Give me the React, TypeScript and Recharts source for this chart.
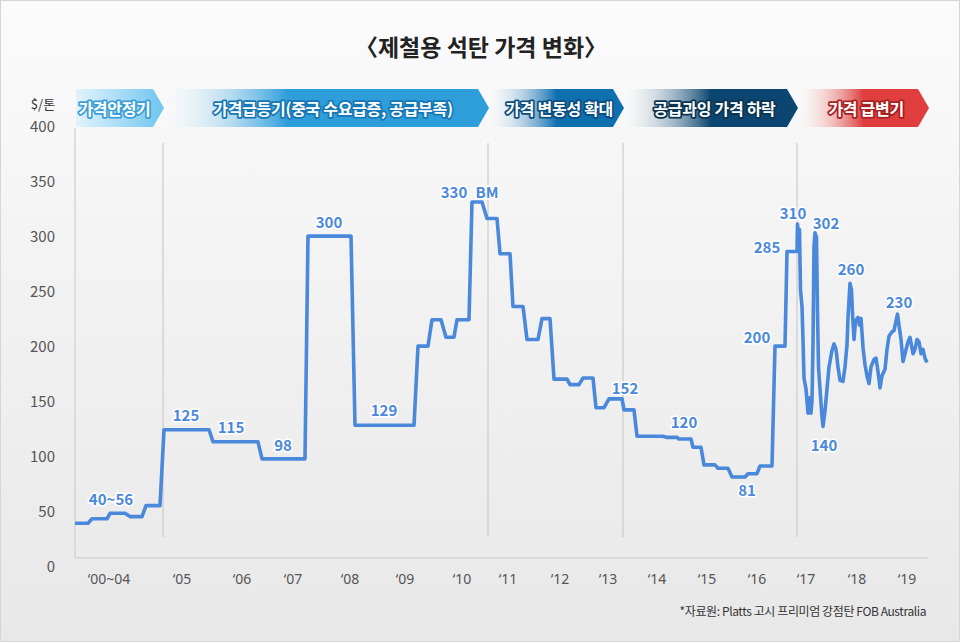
import { LineChart, Line, XAxis, YAxis, ReferenceLine, ReferenceDot } from 'recharts';

// x position in chart units (1 unit = 10px of plot width)
const TIME = [
  0, 1.3, 1.7, 3.2, 3.5, 5.0, 5.5, 6.7, 7.1, 8.5, 8.9, 13.4, 13.8, 18.3, 18.7, 23.0, 23.3, 27.6, 28.0,
  33.9, 34.3, 35.3, 35.7, 36.6, 37.1, 37.9, 38.2, 39.4, 39.7, 40.7, 41.2, 42.2, 42.5, 43.5, 43.8, 44.8,
  45.2, 46.3, 46.7, 47.5, 47.9, 49.2, 49.5, 50.4, 50.8, 51.8, 52.1, 52.9, 53.4, 54.7, 54.9, 55.9, 56.2,
  58.8, 59.2, 60.2, 60.4, 61.6, 61.8, 62.6, 62.9, 64.0, 64.3, 65.3, 65.7, 67.0, 67.3, 68.2, 68.5, 69.7,
  70.0, 71.0, 71.2, 72.2,
  72.25, 72.35, 72.45, 72.55, 72.7, 72.8, 72.9, 73.1, 73.3, 73.45, 73.6, 73.7, 73.8, 73.9, 74.0, 74.15,
  74.25, 74.35, 74.5, 74.7, 74.8, 75.0, 75.2, 75.4, 75.7, 75.9, 76.1, 76.3, 76.5, 76.8, 77.0, 77.2, 77.3,
  77.5, 77.65, 77.75, 77.9, 78.05, 78.3, 78.45, 78.6, 78.8, 79.0, 79.2, 79.4, 79.6, 79.9, 80.1, 80.3, 80.5,
  80.7, 81.0, 81.2, 81.4, 81.7, 81.9, 82.1, 82.25, 82.4, 82.6, 82.8, 83.0, 83.3, 83.5, 83.8, 84.0, 84.2,
  84.4, 84.6, 84.8, 85.0, 85.2,
];

// $/톤
const PRICE = [
  38, 38, 42, 42, 47, 47, 44, 44, 54, 54, 123, 123, 112, 112, 96.5, 96.5, 299, 299, 127,
  127, 199, 199, 223, 223, 207, 207, 223, 223, 330, 330, 315, 315, 283, 283, 235, 235,
  205, 205, 224, 224, 169, 169, 164, 164, 170, 170, 143, 143, 151, 151, 141, 141, 117,
  117, 116, 116, 114.5, 114.5, 107, 107, 91, 91, 88, 88, 80, 80, 83, 83, 90, 90,
  199, 199, 285, 285,
  310, 296, 305, 250, 235, 205, 170, 160, 138, 152, 138, 150, 200, 290, 302, 298,
  230, 180, 160, 135, 126, 140, 160, 180, 195, 201, 196, 180, 168, 167, 180, 200, 225,
  256, 250, 229, 205, 222, 225, 218, 224, 198, 182, 172, 165, 180, 187, 188, 176, 161,
  172, 178, 196, 208, 212, 213, 222, 228, 218, 205, 185, 192, 203, 207, 192, 196, 205,
  203, 192, 196, 188, 184,
];

const X_TICKS = [3.4, 10.7, 16.7, 21.8, 27.5, 33.0, 38.7, 43.3, 48.5, 53.3, 58.2, 63.2, 68.2, 73.1, 78.2, 83.2];
const X_LABELS = ['‘00~04', '‘05', '‘06', '‘07', '‘08', '‘09', '‘10', '‘11', '‘12', '‘13', '‘14', '‘15', '‘16', '‘17', '‘18', '‘19'];
const Y_TICKS = [0, 50, 100, 150, 200, 250, 300, 350, 400];

// phase boundaries (same x units)
const DIVIDERS = [8.8, 41.3, 54.8, 72.2];

const ANN_TEXT = ['40~56', '125', '115', '98', '300', '129', '330', 'BM', '152', '120', '81', '200', '285', '310', '302', '260', '140', '230'];
const ANN_T = [3.6, 11.1, 15.6, 20.8, 25.4, 30.9, 37.9, 41.2, 55.0, 60.9, 67.2, 68.2, 69.2, 71.8, 75.1, 77.6, 74.9, 82.4];
const ANN_V = [60.9, 136.4, 125.5, 109.1, 312.7, 141.8, 339.1, 339.1, 161.8, 130.9, 68.2, 207.3, 289.1, 320.9, 311.8, 270, 110, 239.1];

const PHASES = ['가격안정기', '가격급등기(중국 수요급증, 공급부족)', '가격 변동성 확대', '공급과잉 가격 하락', '가격 급변기'];
const PHASE_COLORS = ['#70c5ee', '#2e9edb', '#0f70b0', '#0b4670', '#e03e3e'];
const PHASE_OUTLINE = ['#3a9fd8', '#1677b5', '#0a4d7f', '#083452', '#a82020'];

const FONT = '"Noto Sans CJK KR", "Noto Sans", sans-serif';
const BLUE = '#4a88dc';
const PLOT_LEFT = 75;
const UNIT_PX = 10;

const data = TIME.map((t, i) => ({ t, price: PRICE[i] }));

function Banners() {
  const edges = [0, ...DIVIDERS, 85.3].map(t => PLOT_LEFT + t * UNIT_PX);
  const top = 88, bottom = 126, mid = 107;
  return (
    <svg width={960} height={642} style={{ position: 'absolute', left: 0, top: 0, pointerEvents: 'none' }}>
      <defs>
        {PHASE_COLORS.map((c, i) => (
          <linearGradient key={i} id={`ph${i}`} x1="0" x2="1" y1="0" y2="0">
            <stop offset="0%" stopColor={i === 0 ? '#e2f3fc' : '#ffffff'} stopOpacity={i === 0 ? 1 : 0.2} />
            <stop offset={i === 0 ? '100%' : i === 1 ? '38%' : '50%'} stopColor={c} />
            <stop offset="100%" stopColor={c} />
          </linearGradient>
        ))}
      </defs>
      <text x={480} y={45} textAnchor="middle" dominantBaseline="central" fontFamily={FONT} fontWeight="bold" fontSize={23} fill="#222">
        〈제철용 석탄 가격 변화〉
      </text>
      <text x={42} y={102} textAnchor="middle" dominantBaseline="central" fontFamily={FONT} fontSize={13} fill="#333">$/톤</text>
      {PHASES.map((label, i) => {
        const l = edges[i];
        const tip = edges[i + 1];
        const pts = `${l},${top} ${tip - 11},${top} ${tip},${mid} ${tip - 11},${bottom} ${l},${bottom}`;
        const cx = i === 0 ? (l + tip - 11) / 2 : l + (tip - l) * 0.52;
        return (
          <g key={i}>
            <polygon points={pts} fill={`url(#ph${i})`} />
            <text
              x={cx}
              y={mid}
              textAnchor="middle"
              dominantBaseline="central"
              fontFamily={FONT}
              fontWeight="bold"
              fontSize={16}
              letterSpacing={-0.3}
              fill="#fff"
              stroke={PHASE_OUTLINE[i]}
              strokeWidth={3.5}
              strokeLinejoin="round"
              paintOrder="stroke"
            >
              {label}
            </text>
          </g>
        );
      })}
      <text x={925} y={609} textAnchor="end" dominantBaseline="central" fontFamily={FONT} fontSize={12} letterSpacing={-0.4} fill="#333">
        *자료원: Platts 고시 프리미엄 강점탄 FOB Australia
      </text>
    </svg>
  );
}

export default function App() {
  return (
    <div
      style={{
        position: 'absolute',
        left: 0,
        top: 0,
        width: 960,
        height: 642,
        boxSizing: 'border-box',
        border: '1px solid #d6d6d6',
        background: 'linear-gradient(180deg, #fbfbfb 0%, #f2f2f2 45%, #e8e8e8 100%)',
        overflow: 'hidden',
      }}
    >
      <div style={{ position: 'absolute', left: -1, top: -1 }}>
        <LineChart width={960} height={642} data={data} margin={{ top: 125, right: 32, bottom: 47, left: 35 }}>
          <XAxis
            dataKey="t"
            type="number"
            domain={[0, 85.3]}
            ticks={X_TICKS}
            interval={0}
            height={30}
            axisLine={false}
            tickLine={false}
            tick={(p: any) => (
              <text x={p.x} y={578} textAnchor="middle" dominantBaseline="central" fontFamily='"Noto Sans", sans-serif' fontSize={14} fill="#555">
                {X_LABELS[X_TICKS.indexOf(p.payload.value)]}
              </text>
            )}
          />
          <YAxis
            type="number"
            domain={[0, 400]}
            ticks={Y_TICKS}
            interval={0}
            width={40}
            axisLine={false}
            tickLine={false}
            tick={(p: any) => (
              <text x={55} y={p.y} textAnchor="end" dominantBaseline="central" fontFamily={FONT} fontSize={15} fill="#555">
                {p.payload.value}
              </text>
            )}
          />
          <ReferenceLine segment={[{ x: 0, y: 6.4 }, { x: 85.3, y: 6.4 }]} stroke="#cfcfcf" strokeWidth={1.2} />
          <ReferenceLine segment={[{ x: 0, y: 6.4 }, { x: 0, y: 397 }]} stroke="#cfcfcf" strokeWidth={1.2} />
          {DIVIDERS.map(d => (
            <ReferenceLine key={d} segment={[{ x: d, y: 25.5 }, { x: d, y: 383.6 }]} stroke="#c4c4c4" strokeWidth={1} />
          ))}
          <Line
            type="linear"
            dataKey="price"
            stroke={BLUE}
            strokeWidth={3.6}
            strokeLinejoin="round"
            dot={false}
            activeDot={false}
            isAnimationActive={false}
          />
          {ANN_TEXT.map((txt, i) => (
            <ReferenceDot
              key={i}
              x={ANN_T[i]}
              y={ANN_V[i]}
              r={0}
              ifOverflow="visible"
              shape={(p: any) => (
                <text
                  x={p.cx}
                  y={p.cy}
                  textAnchor="middle"
                  dominantBaseline="central"
                  fontFamily={FONT}
                  fontWeight="bold"
                  fontSize={15}
                  fill={BLUE}
                  stroke="#fff"
                  strokeWidth={3}
                  paintOrder="stroke"
                >
                  {txt}
                </text>
              )}
            />
          ))}
        </LineChart>
      </div>
      <Banners />
    </div>
  );
}
